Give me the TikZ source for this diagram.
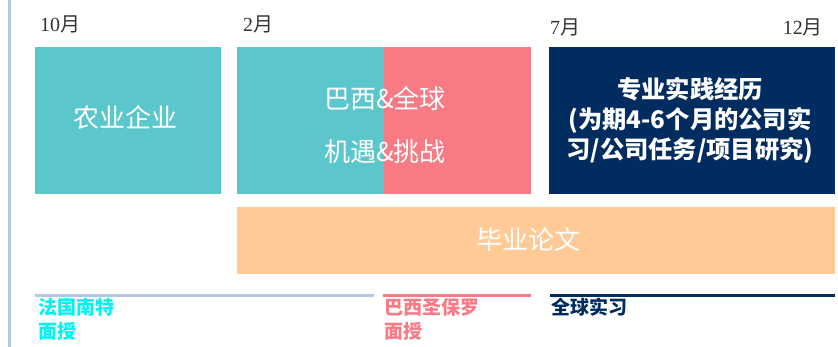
\documentclass[tikz,border=0pt]{standalone}
\usepackage{fontspec}
\setmainfont{Noto Sans CJK SC}
\newfontfamily\cjk{Noto Sans CJK SC}
\newfontfamily\sernum{Liberation Serif}
\definecolor{tealbox}{HTML}{5BC6CC}
\definecolor{pinkbox}{HTML}{F77A84}
\definecolor{navybox}{HTML}{002C5F}
\definecolor{orangebox}{HTML}{FFCA96}
\definecolor{lblue}{HTML}{B4C7E7}
\definecolor{cyanlbl}{HTML}{00F2F2}
\tikzset{
  boxtxt/.style={text=white, align=center, inner sep=0pt},
  month/.style={font=\fontsize{20}{24}\selectfont, text=black!80, inner sep=0pt},
  lbl/.style={font=\fontsize{19}{24}\selectfont\bfseries, inner sep=0pt, anchor=base west},
  tline/.style={line width=3pt}
}
\begin{document}
\begin{tikzpicture}[x=1pt,y=-1pt]
\useasboundingbox (0,0) rectangle (838,347);
% left vertical rule
\coordinate (vtop) at (9.5,0);
\coordinate (vbot) at (9.5,347);
\draw[lblue, line width=2.5pt] (vtop) -- (vbot);
% month labels
\node[month, anchor=base west] (m10) at (40,32) {{\sernum 10}月};
\node[month, anchor=base west] (m2) at (243,32) {{\sernum 2}月};
\node[month, anchor=base west] (m7) at (550,35) {{\sernum 7}月};
\node[month, anchor=base east] (m12) at (823,35) {{\sernum 12}月};
% boxes
\fill[tealbox] (35,47) rectangle (221,194);
\node[boxtxt, font=\fontsize{26}{30}\selectfont] (agri) at (125,118) {农业企业};
\fill[tealbox] (237,47) rectangle (384,194);
\fill[pinkbox] (384,47) rectangle (531,194);
\node[boxtxt, font=\fontsize{26}{53}\selectfont] (brazil) at (385,124.5) {巴西\&全球\\机遇\&挑战};
\fill[navybox] (549,47) rectangle (835,194);
\node[boxtxt, font=\fontsize{24.3}{30}\selectfont\bfseries] (prac) at (690,120) {专业实践经历\\(为期4-6个月的公司实\\习/公司任务/项目研究)};
\fill[orangebox] (237,207) rectangle (835,274);
\node[boxtxt, font=\fontsize{26}{30}\selectfont] (thesis) at (528,240) {毕业论文};
% timeline bars
\coordinate (a1) at (35,295.5);
\coordinate (a2) at (374,295.5);
\coordinate (b1) at (383,295.5);
\coordinate (b2) at (531,295.5);
\coordinate (c1) at (550,295.5);
\coordinate (c2) at (835,295.5);
\draw[tline, lblue] (a1) -- (a2);
\draw[tline, pinkbox] (b1) -- (b2);
\draw[tline, navybox] (c1) -- (c2);
% labels
\node[lbl, text=cyanlbl] (n1) at (38,315) {法国南特};
\node[lbl, text=cyanlbl] (n2) at (38,338) {面授};
\node[lbl, text=pinkbox] (s1) at (384,315) {巴西圣保罗};
\node[lbl, text=pinkbox] (s2) at (384,338) {面授};
\node[lbl, text=navybox] (g1) at (551,315) {全球实习};
\end{tikzpicture}
\end{document}
